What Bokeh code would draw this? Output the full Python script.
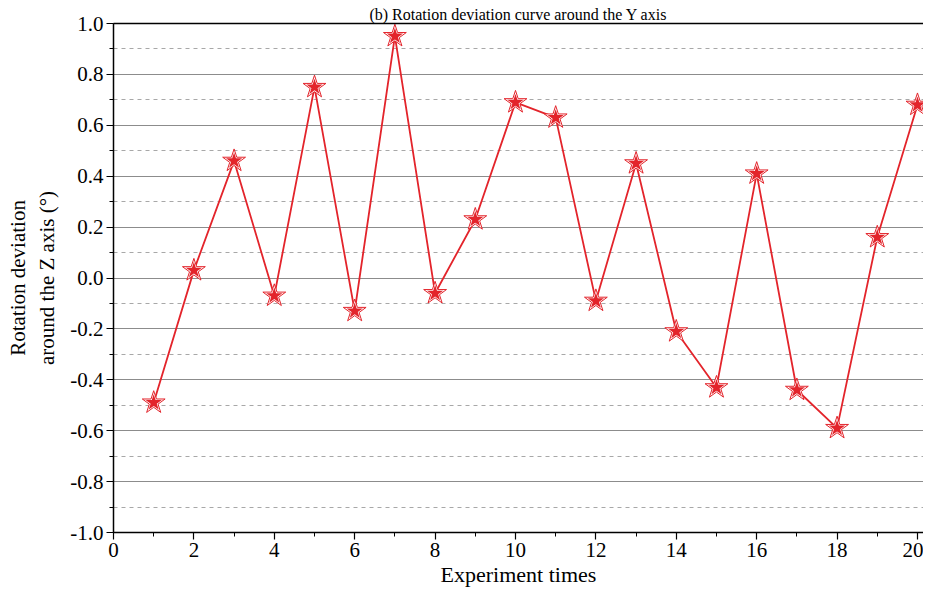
from bokeh.plotting import figure
from bokeh.models import (ColumnDataSource, SingleIntervalTicker, LinearAxis, Range1d,
                          NumeralTickFormatter, Title)
from bokeh.embed import file_html
from bokeh.resources import INLINE

experiment = list(range(1, 21))
deviation = [-0.49, 0.03, 0.46, -0.07, 0.75, -0.13, 0.95, -0.06, 0.23, 0.69,
             0.63, -0.09, 0.45, -0.21, -0.43, 0.41, -0.44, -0.59, 0.16, 0.68]

title_text = "(b) Rotation deviation curve around the Y axis"
x_label = "Experiment times"
y_label = "Rotation deviation\naround the Z axis (°)"

RED = "#e3242b"
FONT = "Liberation Serif"

src = ColumnDataSource(dict(x=experiment, y=deviation))

p = figure(width=923, height=589, output_backend="svg", toolbar_location=None,
           x_range=Range1d(0, 20.15), y_range=Range1d(-1.0, 1.0),
           min_border_left=113, min_border_right=0, min_border_top=23, min_border_bottom=0)
p.title = Title(text=title_text, text_font=FONT, text_font_size="16px",
                text_font_style="normal", align="center", offset=0, standoff=2)
p.title.text_color = "black"
p.outline_line_color = None
p.background_fill_color = "white"
p.border_fill_color = "white"

p.xaxis.ticker = SingleIntervalTicker(interval=2, num_minor_ticks=2)
p.xaxis.axis_label = x_label
p.yaxis.ticker = SingleIntervalTicker(interval=0.2, num_minor_ticks=2)
p.yaxis.formatter = NumeralTickFormatter(format="0.0")
p.yaxis.axis_label = y_label

for ax in (p.xaxis[0], p.yaxis[0]):
    ax.axis_line_color = "black"
    ax.axis_line_width = 1.5
    ax.major_tick_line_color = "black"
    ax.major_tick_line_width = 1.2
    ax.minor_tick_line_color = "black"
    ax.major_tick_in = 0
    ax.major_tick_out = 7
    ax.minor_tick_in = 0
    ax.minor_tick_out = 4
    ax.major_label_text_font = FONT
    ax.major_label_text_font_size = "21px"
    ax.major_label_text_color = "black"
    ax.axis_label_text_font = FONT
    ax.axis_label_text_font_style = "normal"
    ax.axis_label_text_color = "black"

p.xaxis.axis_label_text_font_size = "22px"
p.yaxis.axis_label_text_font_size = "21px"
p.xaxis.major_label_standoff = 3
p.xaxis.axis_label_standoff = 2
p.yaxis.major_label_standoff = 3
p.yaxis.axis_label_standoff = 8

top = LinearAxis(ticker=SingleIntervalTicker(interval=2), major_label_text_font_size="0px",
                 major_tick_in=0, major_tick_out=0, minor_tick_in=0, minor_tick_out=0,
                 axis_line_color="black", axis_line_width=1.5)
top.major_label_text_color = None
p.add_layout(top, "above")

p.xgrid.visible = False
p.ygrid.grid_line_color = "#8c8c8c"
p.ygrid.grid_line_width = 1
p.ygrid.minor_grid_line_color = "#a8a8a8"
p.ygrid.minor_grid_line_dash = "4 4"
p.ygrid.minor_grid_line_width = 1

p.line("x", "y", source=src, line_color=RED, line_width=1.8)
p.scatter("x", "y", source=src, marker="star", size=24, fill_color="white",
          line_color=RED, line_width=1)
p.scatter("x", "y", source=src, marker="star", size=17, fill_color=RED,
          line_color=None)

open("out.html", "w").write(file_html(p, INLINE))
